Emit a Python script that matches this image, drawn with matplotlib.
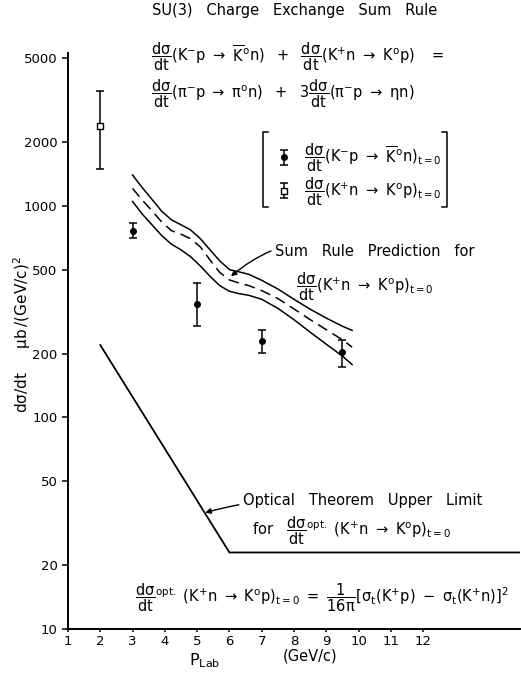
import matplotlib
matplotlib.use("Agg")
import matplotlib.pyplot as plt
from matplotlib.lines import Line2D

plt.rcParams['font.family'] = ['DejaVu Sans']
plt.rcParams['mathtext.fontset'] = 'dejavusans'
plt.rcParams['mathtext.default'] = 'regular'

# measured K-p -> K0bar n points (filled circles)
km_p = [3.0, 5.0, 7.0, 9.5]
km_val = [765, 345, 230, 203]
km_lo = [703, 272, 201, 173]
km_hi = [828, 431, 258, 232]

# measured K+n -> K0p point (open square)
kp_p = [2.0]
kp_val = [2400]
kp_lo = [1500]
kp_hi = [3500]

# sum rule prediction band (upper, central, lower)
band_p = [3.0, 3.3, 3.6, 3.9, 4.2, 4.5, 4.8, 5.1, 5.4, 5.7, 6.0, 6.3, 6.6, 7.0, 7.5, 8.0, 8.5, 9.0, 9.5, 9.8]
band_hi = [1400, 1220, 1075, 945, 860, 815, 770, 700, 620, 550, 500, 488, 475, 445, 405, 362, 325, 295, 270, 258]
band_mid = [1210, 1065, 950, 840, 765, 735, 700, 640, 555, 485, 447, 432, 420, 398, 365, 326, 290, 260, 233, 215]
band_lo = [1050, 915, 815, 725, 660, 620, 575, 520, 465, 420, 395, 385, 378, 362, 328, 290, 253, 222, 195, 178]

# optical theorem upper limit
opt_p = [2.0, 6.0, 15.0]
opt_val = [220, 23, 23]

W, H = 521, 673
fig = plt.figure(figsize=(W / 100, H / 100), dpi=100)
ax = fig.add_axes([68 / W, 1 - 629 / H, (520 - 68) / W, (629 - 53) / H])

def fx(px):
    return px / W

def fy(py):
    return 1 - py / H

ax.set_yscale('log')
ax.set_xlim(1, 15)
ax.set_ylim(10, 5285)

ax.plot(band_p, band_hi, color='black', lw=1.1)
ax.plot(band_p, band_mid, color='black', lw=1.1, ls=(0, (7, 4)))
ax.plot(band_p, band_lo, color='black', lw=1.1)
ax.plot(opt_p, opt_val, color='black', lw=1.3)

e1 = ax.errorbar(km_p, km_val,
                 yerr=[[v - l for v, l in zip(km_val, km_lo)], [h - v for v, h in zip(km_val, km_hi)]],
                 fmt='o', color='black', ms=4, capsize=3, elinewidth=1.1, capthick=1.1)
e2 = ax.errorbar(kp_p, kp_val,
                 yerr=[[v - l for v, l in zip(kp_val, kp_lo)], [h - v for v, h in zip(kp_val, kp_hi)]],
                 fmt='s', color='black', mfc='white', ms=4, capsize=3, elinewidth=1.1, capthick=1.1)

# axes styling
for s in ['top', 'right']:
    ax.spines[s].set_visible(False)
ax.spines['left'].set_linewidth(1.4)
ax.spines['bottom'].set_linewidth(1.4)
yt = [10, 20, 50, 100, 200, 500, 1000, 2000, 5000]
ax.set_yticks(yt)
ax.set_yticklabels([str(v) for v in yt])
ax.yaxis.set_minor_locator(matplotlib.ticker.NullLocator())
ax.set_xticks(range(1, 13))
ax.tick_params(axis='y', labelsize=9.5, width=1.1, length=4, direction='out')
ax.tick_params(axis='x', labelsize=9.5, width=1.1, length=2, pad=2, direction='out')

# title
fig.text(fx(295), fy(11), 'SU(3)   Charge   Exchange   Sum   Rule', ha='center', va='center', fontsize=10.5)

# sum rule formula
fig.text(fx(151), fy(57), r'$\dfrac{d\sigma}{dt}(K^{-}p\ \rightarrow\ \overline{K}^{o}n)\ \ +\ \ \dfrac{d\sigma}{dt}(K^{+}n\ \rightarrow\ K^{o}p)\ \ \ =$',
         ha='left', va='center', fontsize=10.5)
fig.text(fx(151), fy(94), r'$\dfrac{d\sigma}{dt}(\pi^{-}p\ \rightarrow\ \pi^{o}n)\ \ +\ \ 3\dfrac{d\sigma}{dt}(\pi^{-}p\ \rightarrow\ \eta n)$',
         ha='left', va='center', fontsize=10.5)

# bracketed legend
leg = ax.legend([e1, e2],
                [r'$\dfrac{d\sigma}{dt}(K^{-}p\ \rightarrow\ \overline{K}^{o}n)_{t=0}$',
                 r'$\dfrac{d\sigma}{dt}(K^{+}n\ \rightarrow\ K^{o}p)_{t=0}$'],
                loc='upper left', bbox_to_anchor=(fx(266), fy(133)), bbox_transform=fig.transFigure,
                frameon=False, fontsize=10.5, handlelength=1.2, handletextpad=0.8,
                labelspacing=0.05, borderpad=0.1)
for bx, d in [(263, 5), (447, -5)]:
    fig.add_artist(Line2D([fx(bx + d), fx(bx), fx(bx), fx(bx + d)], [fy(132), fy(132), fy(207), fy(207)],
                          color='black', lw=1.1))

# sum rule annotation
ax.annotate('Sum   Rule   Prediction   for', xy=(6.05, 465), xytext=(fx(275), fy(252)),
            textcoords='figure fraction', ha='left', va='center', fontsize=10.5,
            arrowprops=dict(arrowstyle='-|>', color='black', lw=1.0, mutation_scale=8,
                            connectionstyle='arc3,rad=0.3', shrinkA=1, shrinkB=0))
fig.text(fx(296), fy(287), r'$\dfrac{d\sigma}{dt}(K^{+}n\ \rightarrow\ K^{o}p)_{t=0}$', ha='left', va='center', fontsize=10.5)

# optical theorem annotation
ax.annotate('Optical   Theorem   Upper   Limit', xy=(5.25, 35.5), xytext=(fx(243), fy(501)),
            textcoords='figure fraction', ha='left', va='center', fontsize=10.5,
            arrowprops=dict(arrowstyle='-|>', color='black', lw=1.0, mutation_scale=8,
                            connectionstyle='arc3,rad=0.1', shrinkA=1, shrinkB=0))
fig.text(fx(252), fy(531), r'for   $\dfrac{d\sigma}{dt}^{opt.}\ (K^{+}n\ \rightarrow\ K^{o}p)_{t=0}$',
         ha='left', va='center', fontsize=10.5)

# optical formula
fig.text(fx(135), fy(598), r'$\dfrac{d\sigma}{dt}^{opt.}\ (K^{+}n\ \rightarrow\ K^{o}p)_{t=0}\ =\ \dfrac{1}{16\pi}\left[\sigma_{t}(K^{+}p)\ -\ \sigma_{t}(K^{+}n)\right]^{2}$',
         ha='left', va='center', fontsize=10.5)

# axis labels
fig.text(fx(22), fy(335), r'$d\sigma/dt\ \ \ \ \ \mu b\,/(GeV/c)^{2}$', rotation=90, ha='center', va='center', fontsize=11)
fig.text(fx(205), fy(661), r'$P_{Lab}$', ha='center', va='center', fontsize=11.5)
fig.text(fx(310), fy(656), '(GeV/c)', ha='center', va='center', fontsize=10.5)

fig.savefig('out.png', dpi=100)
